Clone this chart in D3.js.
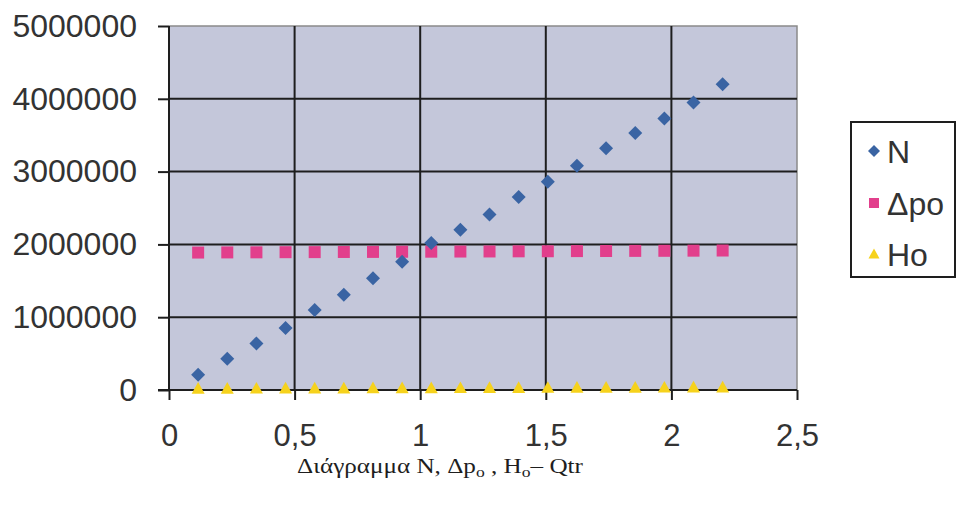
<!DOCTYPE html>
<html>
<head>
<meta charset="utf-8">
<script src="https://cdn.jsdelivr.net/npm/d3@7"></script>
<style>
  html, body { margin: 0; padding: 0; background: #ffffff; }
  svg { display: block; }
</style>
</head>
<body>
<svg id="chart" width="960" height="506"></svg>
<script>
// Flow rate Qtr (x) for each measured point
const qtr = [0.116, 0.232, 0.348, 0.464, 0.58, 0.696, 0.812, 0.928, 1.044, 1.16,
             1.276, 1.392, 1.508, 1.624, 1.74, 1.856, 1.972, 2.088, 2.204];
// Series values
const seriesN = [210000, 430000, 640000, 850000, 1100000, 1310000, 1535000, 1760000, 2020000, 2200000,
                 2410000, 2650000, 2860000, 3080000, 3320000, 3530000, 3730000, 3950000, 4200000];
const seriesDpo = [1888000, 1890000, 1891000, 1893000, 1894000, 1896000, 1897000, 1899000, 1900000, 1902000,
                   1903000, 1905000, 1906000, 1908000, 1909000, 1911000, 1912000, 1914000, 1916000];
const seriesHo = [20000, 21000, 22000, 23000, 24000, 25000, 26000, 27000, 28000, 29000,
                  30000, 31000, 32000, 33000, 34000, 35000, 36000, 37000, 38000];
// Axis ticks
const xTicks = [0, 0.5, 1, 1.5, 2, 2.5];
const xTickLabels = ["0", "0,5", "1", "1,5", "2", "2,5"];
const yTicks = [0, 1000000, 2000000, 3000000, 4000000, 5000000];
const yTickLabels = ["0", "1000000", "2000000", "3000000", "4000000", "5000000"];
const legendLabels = ["N", "Δpo", "Ho"];

const svg = d3.select("#chart");
const margin = { left: 169, top: 26 };
const plotW = 628, plotH = 364;

const x = d3.scaleLinear().domain([0, 2.5]).range([0, plotW]);
const y = d3.scaleLinear().domain([0, 5000000]).range([plotH, 0]);

const g = svg.append("g").attr("transform", `translate(${margin.left},${margin.top})`);

// plot background
g.append("rect").attr("x", 0).attr("y", 0).attr("width", plotW).attr("height", plotH)
  .attr("fill", "#c4c7da");

// outer frame (top / right)
g.append("path")
  .attr("d", `M0,0H${plotW}V${plotH}`)
  .attr("fill", "none").attr("stroke", "#8a8a8a").attr("stroke-width", 1.5);

// gridlines
g.append("g").selectAll("line").data(yTicks.filter(v => v > 0 && v < 5000000)).join("line")
  .attr("x1", 0).attr("x2", plotW).attr("y1", d => y(d)).attr("y2", d => y(d))
  .attr("stroke", "#1e1e1e").attr("stroke-width", 2);
g.append("g").selectAll("line").data(xTicks.filter(v => v > 0 && v < 2.5)).join("line")
  .attr("y1", 0).attr("y2", plotH).attr("x1", d => x(d)).attr("x2", d => x(d))
  .attr("stroke", "#1e1e1e").attr("stroke-width", 2);

// axes
const yAxis = d3.axisLeft(y).tickValues(yTicks)
  .tickFormat((d, i) => yTickLabels[i]).tickSize(11).tickPadding(21);
const xAxis = d3.axisBottom(x).tickValues(xTicks)
  .tickFormat((d, i) => xTickLabels[i]).tickSize(10).tickPadding(24);

const ya = g.append("g").call(yAxis);
const xa = g.append("g").attr("transform", `translate(0,${plotH})`).call(xAxis);
[ya, xa].forEach(a => {
  a.select(".domain").attr("stroke", "#1e1e1e").attr("stroke-width", 2);
  a.selectAll(".tick line").attr("stroke", "#1e1e1e").attr("stroke-width", 2);
  a.selectAll("text").attr("fill", "#333333")
    .style("font-family", "'Liberation Sans', Arial, sans-serif").style("font-size", "31px");
});
ya.selectAll("text").style("font-size", "32px");
ya.select(".domain").attr("d", `M0,0V${plotH}`);
xa.select(".domain").attr("d", `M-11,0H${plotW}`);

// marker shapes
const shapes = {
  diamond: r => `M0,${-r}L${r},0L0,${r}L${-r},0Z`,
  square: r => `M${-r},${-r}H${r}V${r}H${-r}Z`,
  triangle: r => `M0,${-r}L${r},${r * 0.8}H${-r}Z`
};
const series = [
  { name: legendLabels[0], values: seriesN, color: "#3a64a3", shape: "diamond", r: 7 },
  { name: legendLabels[1], values: seriesDpo, color: "#e23f8c", shape: "square", r: 6 },
  { name: legendLabels[2], values: seriesHo, color: "#f6d21c", shape: "triangle", r: 6.5 }
];

// draw Ho first, then Δpo, then N on top
[series[2], series[1], series[0]].forEach(s => {
  g.append("g").selectAll("path").data(s.values).join("path")
    .attr("transform", (d, i) => `translate(${x(qtr[i])},${y(d)})`)
    .attr("d", shapes[s.shape](s.r))
    .attr("fill", s.color);
});

// legend
const lg = svg.append("g").attr("transform", "translate(851,122)");
lg.append("rect").attr("width", 104).attr("height", 155)
  .attr("fill", "#ffffff").attr("stroke", "#1e1e1e").attr("stroke-width", 2);
const rowY = [29, 81, 132];
series.forEach((s, i) => {
  const row = lg.append("g").attr("transform", `translate(0,${rowY[i]})`);
  row.append("path").attr("transform", "translate(23,0)")
    .attr("d", shapes[s.shape](s.r - 1)).attr("fill", s.color);
  row.append("text").attr("x", 36).attr("y", 0).attr("dy", "0.36em")
    .attr("fill", "#333333")
    .style("font-family", "'Liberation Sans', Arial, sans-serif").style("font-size", "32px")
    .text(s.name);
});

// caption below chart
const cap = svg.append("text").attr("x", 297).attr("y", 473)
  .attr("fill", "#1e1e1e")
  .attr("textLength", 286).attr("lengthAdjust", "spacingAndGlyphs")
  .style("font-family", "'Liberation Serif', 'Times New Roman', serif").style("font-size", "20px");
cap.append("tspan").text("Διάγραμμα N, Δp");
cap.append("tspan").attr("dy", 4).style("font-size", "14px").text("o");
cap.append("tspan").attr("dy", -4).text(" , H");
cap.append("tspan").attr("dy", 4).style("font-size", "14px").text("o");
cap.append("tspan").attr("dy", -4).text("– Qtr");
</script>
</body>
</html>
